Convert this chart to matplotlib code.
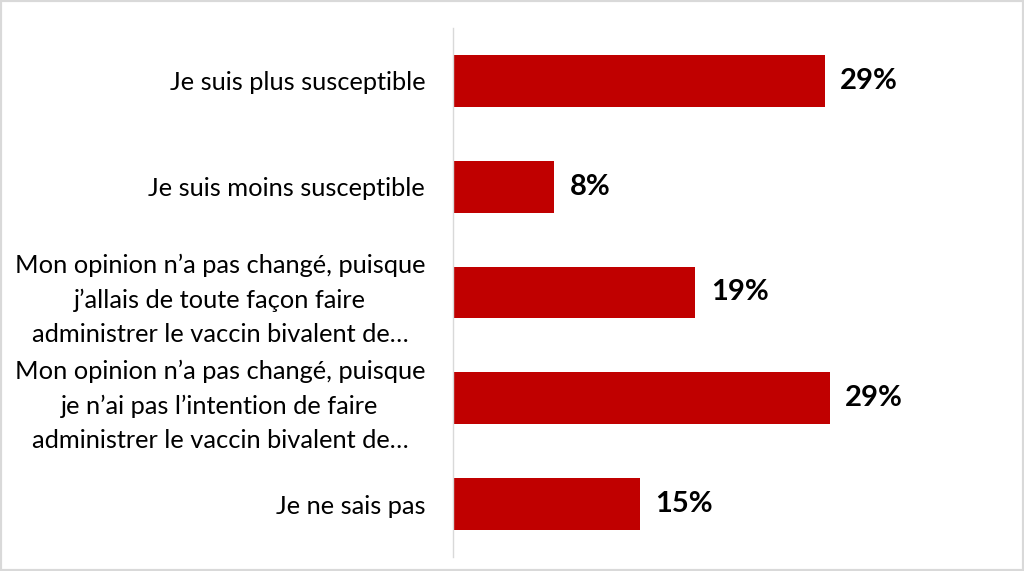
import matplotlib
matplotlib.use("Agg")
import matplotlib.pyplot as plt
from matplotlib.patches import Rectangle

categories = [
    "Je suis plus susceptible",
    "Je suis moins susceptible",
    "Mon opinion n’a pas changé, puisque\nj’allais de toute façon faire\nadministrer le vaccin bivalent de…",
    "Mon opinion n’a pas changé, puisque\nje n’ai pas l’intention de faire\nadministrer le vaccin bivalent de…",
    "Je ne sais pas",
]
values = [29.0, 7.9, 18.9, 29.4, 14.6]
value_labels = ["29%", "8%", "19%", "29%", "15%"]

plt.rcParams['font.family'] = ['Lato', 'DejaVu Sans']

fig = plt.figure(figsize=(10.24, 5.71), dpi=100)
fig.patch.set_facecolor("white")
fig.patches.append(Rectangle((0, 0), 1, 1, transform=fig.transFigure, fill=False,
                             edgecolor="#d9d9d9", linewidth=3))

ax = fig.add_axes([453/1024, 14/571, 513/1024, 529/571])
y = list(range(len(categories)))
ax.barh(y, values, height=0.49, color="#C00000")
ax.set_ylim(len(categories) - 0.5, -0.5)
ax.set_xlim(0, 40)
ax.set_yticks(y)
ax.set_yticklabels(categories, fontsize=18.3, color="#000000", multialignment="center",
                   linespacing=1.58)
ax.tick_params(axis="y", length=0, pad=20)
ax.set_xticks([])
for s in ["top", "right", "bottom"]:
    ax.spines[s].set_visible(False)
ax.spines["left"].set_color("#d9d9d9")
ax.spines["left"].set_linewidth(1)

for yi, v, lab in zip(y, values, value_labels):
    ax.annotate(lab, (v, yi), xytext=(11, 0), textcoords="offset points",
                va="center", ha="left", fontsize=21, fontweight="bold", color="#000000")

fig.savefig("out.png", dpi=100)
